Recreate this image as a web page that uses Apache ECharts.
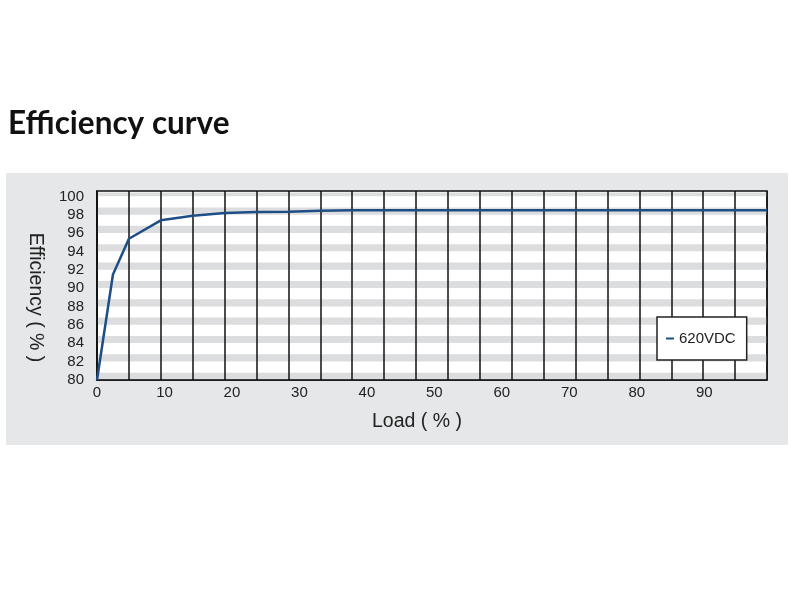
<!DOCTYPE html>
<html>
<head>
<meta charset="utf-8">
<script src="https://cdn.jsdelivr.net/npm/echarts@6/dist/echarts.min.js"></script>
<style>
  html, body { margin: 0; padding: 0; background: #ffffff; }
  #chart { width: 800px; height: 600px; }
</style>
</head>
<body>
<div id="chart"></div>
<script>
// ---- data ----
const loadPct = [0, 2.5, 5, 10, 15, 20, 25, 30, 35, 40, 50, 60, 70, 80, 90, 100, 105];
const efficiency = [80, 91.5, 95.4, 97.4, 97.9, 98.2, 98.3, 98.35, 98.45, 98.5, 98.5, 98.5, 98.5, 98.5, 98.5, 98.5, 98.5];
const xTickLabels = [0, 10, 20, 30, 40, 50, 60, 70, 80, 90];
const yTickLabels = [80, 82, 84, 86, 88, 90, 92, 94, 96, 98, 100];
const seriesName = '620VDC';

// ---- styling constants ----
const Y_MIN = 80, Y_MAX = 100.6;
const STRIPE_FROM = 0.02, STRIPE_TO = 0.8;
const FONT = '"Liberation Sans", Arial, sans-serif';

const stripes = yTickLabels.map(v => [
  { yAxis: v + STRIPE_FROM },
  { yAxis: Math.min(v + STRIPE_TO, Y_MAX - 0.15) }
]);

const pairs = loadPct.map((x, i) => [x, efficiency[i]]);

const chart = echarts.init(document.getElementById('chart'), null, { renderer: 'canvas' });
chart.setOption({
  animation: false,
  backgroundColor: '#ffffff',
  graphic: [{
    type: 'rect', z: -10, silent: true,
    shape: { x: 6, y: 173, width: 782, height: 272 },
    style: { fill: '#e6e7e8' }
  }],
  title: {
    text: 'Efficiency curve',
    left: 8, top: 108, padding: 0,
    textStyle: { fontFamily: 'Lato, "Liberation Sans", sans-serif', fontSize: 31.5, fontWeight: 'bold', color: '#111' }
  },
  legend: {
    data: [seriesName],
    left: 657, top: 317,
    orient: 'horizontal',
    padding: [14, 11, 14, 9],
    backgroundColor: '#ffffff',
    borderColor: '#222',
    borderWidth: 1.5,
    borderRadius: 0,
    icon: 'rect',
    itemWidth: 8, itemHeight: 2,
    z: 8,
    textStyle: { fontFamily: FONT, fontSize: 15, color: '#222' }
  },
  grid: {
    left: 97, right: 33, top: 191, bottom: 220,
    show: true, backgroundColor: '#ffffff',
    borderColor: '#111', borderWidth: 1.5,
    containLabel: false
  },
  xAxis: [{
    type: 'value', min: 0, max: 105, interval: 5,
    position: 'bottom', z: 3,
    axisLine: { show: true, lineStyle: { color: '#111', width: 1.5 } },
    axisTick: { show: false },
    axisLabel: { show: false },
    splitLine: { show: true, lineStyle: { color: '#111', width: 1.5 } }
  }, {
    type: 'value', min: 0, max: 99.3, interval: 10,
    position: 'bottom', z: 3,
    axisLine: { show: false },
    axisTick: { show: false },
    splitLine: { show: false },
    axisLabel: {
      show: true, margin: 5, showMaxLabel: true, showMinLabel: true,
      fontFamily: FONT, fontSize: 15, color: '#222',
      formatter: v => xTickLabels.indexOf(v) >= 0 ? String(v) : ''
    },
    name: 'Load ( % )',
    nameLocation: 'middle',
    nameGap: 32,
    nameTextStyle: { fontFamily: FONT, fontSize: 19.5, color: '#222', padding: [0, 30, 0, 0] }
  }],
  yAxis: [{
    type: 'value', min: Y_MIN, max: Y_MAX, interval: 2,
    position: 'left', z: 3,
    axisLine: { show: true, lineStyle: { color: '#111', width: 1.5 } },
    axisTick: { show: false },
    splitLine: { show: false },
    axisLabel: {
      show: true, margin: 13, showMaxLabel: true, showMinLabel: true,
      fontFamily: FONT, fontSize: 15, color: '#222',
      formatter: v => yTickLabels.indexOf(v) >= 0 ? String(v) : ''
    },
    name: 'Efficiency ( % )',
    nameLocation: 'middle',
    nameRotate: -90,
    nameGap: 52,
    nameTextStyle: { fontFamily: FONT, fontSize: 19.5, color: '#222', padding: [0, 0, 0, 24] }
  }],
  series: [{
    name: seriesName,
    type: 'line',
    xAxisIndex: 0, yAxisIndex: 0,
    data: pairs,
    z: 5,
    color: '#1d4e85',
    symbol: 'none',
    smooth: false,
    lineStyle: { color: '#1d4e85', width: 2.5 },
    markArea: {
      silent: true, z: 1,
      itemStyle: { color: '#dcdddf', borderWidth: 0 },
      label: { show: false },
      data: stripes
    }
  }]
});
</script>
</body>
</html>
